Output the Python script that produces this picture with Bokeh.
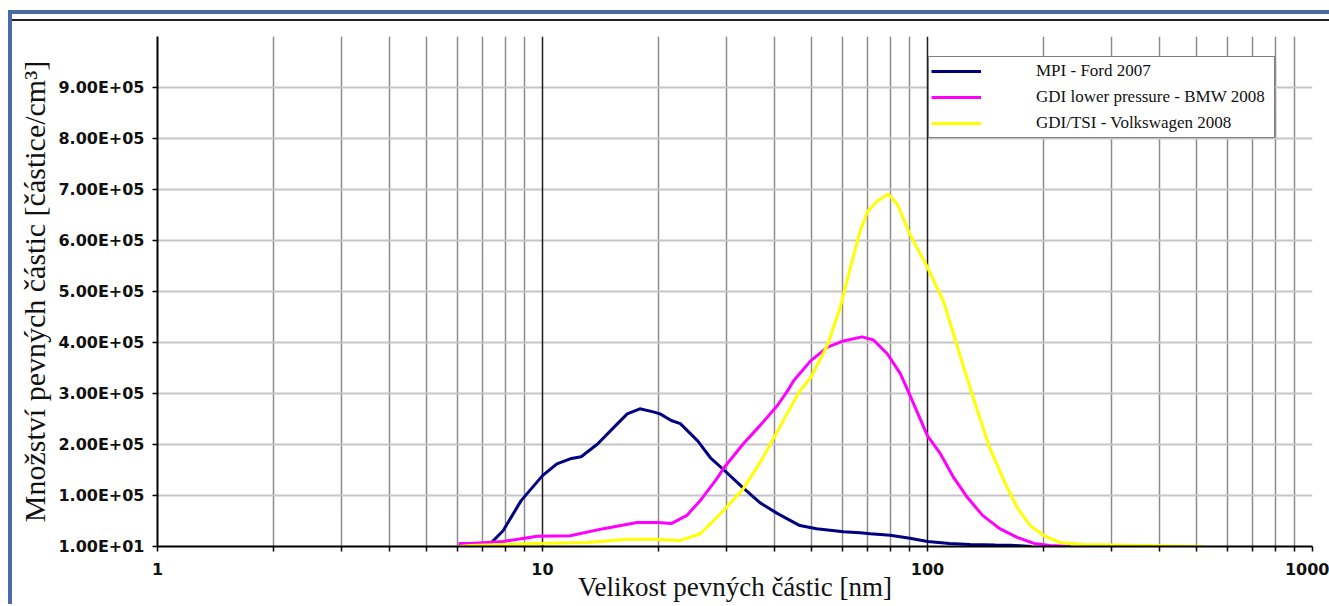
from bokeh.plotting import figure
from bokeh.models import Range1d, FixedTicker, Grid
from bokeh.layouts import column
from bokeh.embed import file_html
from bokeh.resources import INLINE

# ---------------- data ----------------
series_names = ["MPI - Ford 2007", "GDI lower pressure - BMW 2008", "GDI/TSI - Volkswagen 2008"]
series_colors = ["#000080", "#ff00ff", "#ffff00"]

mpi_x = [7.2, 7.9, 8.8, 10, 10.9, 11.8, 12.6, 13.9, 15.3, 16.6, 17.9, 19.4, 20.2, 21.6, 22.8,
         25.3, 27.3, 29.5, 33.2, 36.7, 40.7, 46.6, 51.5, 60.5, 66.8, 71, 80, 90, 100, 114,
         129, 150, 165, 186]
mpi_y = [10, 31000, 90000, 139000, 162000, 172000, 176000, 201000, 233000, 260000, 270000,
         264000, 260000, 247000, 241000, 207000, 174000, 151000, 115000, 86000, 65000, 41000,
         35000, 29000, 27000, 25000, 22000, 16000, 10000, 6000, 4000, 3000, 2500, 10]

gdi_x = [6.05, 6.5, 7.9, 9.7, 11.8, 14.4, 17.6, 19.9, 21.6, 23.7, 25.7, 28.5, 29.5, 33.2,
         36.7, 40.7, 43.3, 44.9, 49.7, 55, 60.5, 67.6, 72.4, 78.6, 85, 89, 100, 108, 117,
         127, 139, 154, 171, 189, 208, 235]
gdi_y = [6000, 6000, 10000, 20000, 21000, 35000, 47000, 47000, 45000, 61000, 90000, 135000,
         153000, 201000, 237000, 276000, 305000, 325000, 364000, 391000, 403000, 411000,
         405000, 378000, 339000, 305000, 217000, 182000, 135000, 96000, 61000, 35000, 18000,
         6000, 2000, 10]

tsi_x = [6.05, 6.5, 9.7, 13.1, 16.6, 19.4, 22.8, 25.7, 29.5, 33.2, 36.7, 39.9, 43.3, 46.6,
         49.7, 55, 59.3, 63, 66.8, 70, 74, 79, 83.5, 90, 99.6, 110, 122, 134, 145, 158, 171,
         185, 200, 220, 254, 521]
tsi_y = [10, 2000, 6000, 8000, 14000, 14000, 12000, 25000, 70000, 113000, 164000, 213000,
         262000, 305000, 331000, 395000, 468000, 546000, 618000, 658000, 677000, 691000,
         671000, 612000, 550000, 481000, 370000, 272000, 194000, 129000, 76000, 41000, 22000,
         8000, 4000, 10]

x_major_ticks = [1, 10, 100, 1000]
x_major_labels = ["1", "10", "100", "1000"]
x_minor_ticks = [2, 3, 4, 5, 6, 7, 8, 9, 20, 30, 40, 50, 60, 70, 80, 90,
                 200, 300, 400, 500, 600, 700, 800, 900]
y_ticks = [10, 100000, 200000, 300000, 400000, 500000, 600000, 700000, 800000, 900000]
y_tick_labels = ["1.00E+01", "1.00E+05", "2.00E+05", "3.00E+05", "4.00E+05", "5.00E+05",
                 "6.00E+05", "7.00E+05", "8.00E+05", "9.00E+05"]
y_grid_ticks = [100000, 200000, 300000, 400000, 500000, 600000, 700000, 800000, 900000, 1000000]

x_title = "Velikost pevných částic [nm]"
y_title = "Množství pevných částic [částice/cm³]"

# ---------------- figure ----------------
p = figure(width=1317, height=585, x_axis_type="log",
           x_range=Range1d(1, 1000), y_range=Range1d(10, 1000000),
           output_backend="svg", toolbar_location=None,
           min_border_left=145, min_border_right=17, min_border_top=15, min_border_bottom=60,
           background_fill_color="white", border_fill_color="white")
p.outline_line_color = None

# grids
p.xgrid.ticker = FixedTicker(ticks=x_minor_ticks + [1000])
p.xgrid.grid_line_color = "#8c8c8c"
p.xgrid.grid_line_width = 1.5
p.ygrid.ticker = FixedTicker(ticks=y_grid_ticks)
p.ygrid.grid_line_color = "#c6c6c6"
p.ygrid.grid_line_width = 2
decade_grid = Grid(dimension=0, ticker=FixedTicker(ticks=[10, 100]),
                   grid_line_color="#1e1e1e", grid_line_width=1.5)
p.add_layout(decade_grid)

# x axis
xa = p.xaxis[0]
xa.ticker = FixedTicker(ticks=x_major_ticks, minor_ticks=x_minor_ticks)
xa.major_label_overrides = dict(zip(x_major_ticks, x_major_labels))
xa.axis_line_width = 2
xa.axis_line_color = "black"
xa.major_tick_in = 0
xa.major_tick_out = 5
xa.minor_tick_in = 0
xa.minor_tick_out = 5
xa.major_tick_line_width = 1.5
xa.minor_tick_line_width = 1.5
xa.minor_tick_line_color = "black"
xa.major_label_text_font = "DejaVu Sans"
xa.major_label_text_font_style = "bold"
xa.major_label_text_font_size = "16px"
xa.major_label_text_color = "#111111"
xa.major_label_standoff = 11
xa.axis_label = x_title
xa.axis_label_text_font = "Liberation Serif"
xa.axis_label_text_font_style = "normal"
xa.axis_label_text_font_size = "27px"
xa.axis_label_text_color = "#111111"
xa.axis_label_standoff = -6

# y axis
ya = p.yaxis[0]
ya.ticker = FixedTicker(ticks=y_ticks, minor_ticks=[])
ya.major_label_overrides = dict(zip(y_ticks, y_tick_labels))
ya.axis_line_width = 2
ya.axis_line_color = "black"
ya.major_tick_in = 0
ya.major_tick_out = 5
ya.major_tick_line_width = 1.5
ya.minor_tick_line_color = None
ya.major_label_text_font = "DejaVu Sans"
ya.major_label_text_font_style = "bold"
ya.major_label_text_font_size = "16px"
ya.major_label_text_color = "#111111"
ya.major_label_standoff = 8
ya.axis_label = y_title
ya.axis_label_text_font = "Liberation Serif"
ya.axis_label_text_font_style = "normal"
ya.axis_label_text_font_size = "30px"
ya.axis_label_text_color = "#111111"
ya.axis_label_standoff = 4

# series
for xs, ys, name, col in zip([mpi_x, gdi_x, tsi_x], [mpi_y, gdi_y, tsi_y],
                             series_names, series_colors):
    p.line(xs, ys, line_color=col, line_width=3, legend_label=name)

# legend
lg = p.legend[0]
lg.location = (771, 408)
lg.border_line_color = "black"
lg.border_line_width = 1.5
lg.background_fill_color = "white"
lg.background_fill_alpha = 1
lg.padding = 2
lg.spacing = 2
lg.margin = 0
lg.label_height = 24
lg.glyph_height = 24
lg.glyph_width = 50
lg.label_standoff = 55
lg.label_width = 236
lg.label_text_font = "Liberation Serif"
lg.label_text_font_size = "17px"
lg.label_text_color = "#111111"

layout = column(p, styles={"border-top": "4px solid #4a6aa5",
                           "border-left": "4px solid #4a6aa5",
                           "padding-top": "5px",
                           "margin-top": "10px",
                           "margin-left": "8px"})
p.styles = {"border-top": "2px solid #222222"}

open("out.html", "w").write(file_html(layout, INLINE))
